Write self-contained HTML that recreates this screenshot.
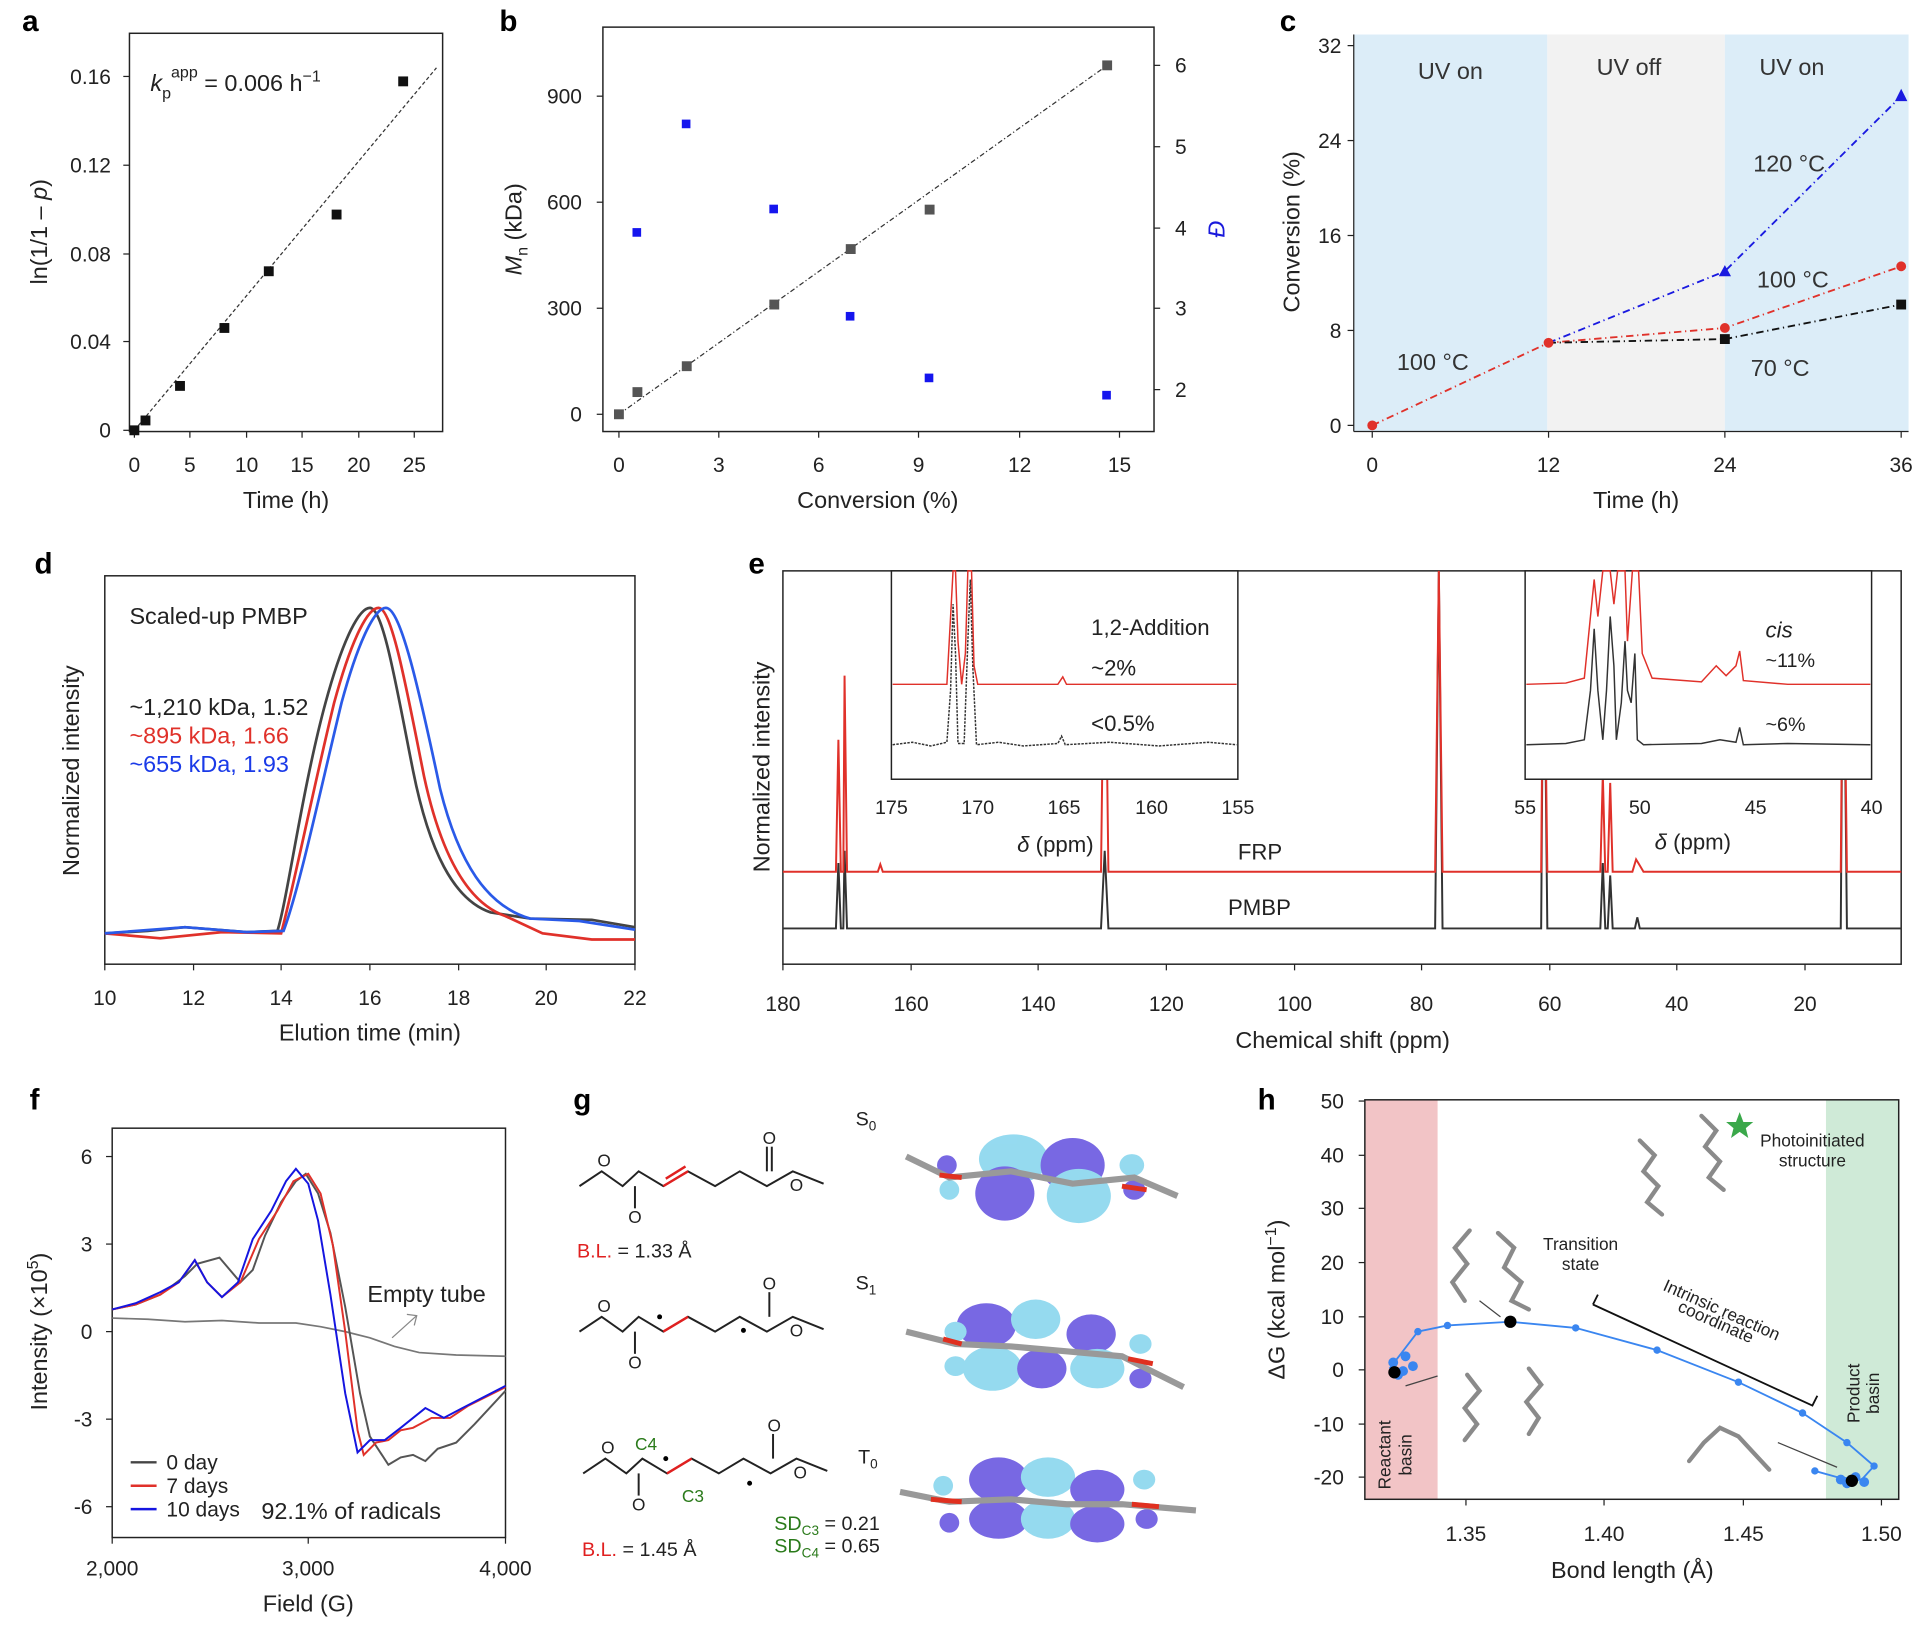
<!DOCTYPE html>
<html><head><meta charset="utf-8"><style>
html,body{margin:0;padding:0;background:#fff;}
svg{display:block;font-family:"Liberation Sans",sans-serif;}
</style></head><body>
<svg width="1932" height="1630" viewBox="0 0 1567 1322" preserveAspectRatio="none" xmlns="http://www.w3.org/2000/svg">
<g font-size="17" fill="#222">
<g font-weight="bold" font-size="24" fill="#000">
<text x="18" y="25">a</text><text x="405" y="25">b</text><text x="1038" y="25">c</text>
<text x="28" y="465">d</text><text x="607" y="465">e</text>
<text x="24" y="900">f</text><text x="465" y="900">g</text><text x="1020" y="900">h</text>
</g>

<!-- a -->
<rect x="105" y="27" width="254" height="323" fill="none" stroke="#222" stroke-width="1.2"/>
<g stroke="#222"><line x1="109" y1="350" x2="109" y2="355"/><line x1="154" y1="350" x2="154" y2="355"/><line x1="200" y1="350" x2="200" y2="355"/><line x1="245" y1="350" x2="245" y2="355"/><line x1="291" y1="350" x2="291" y2="355"/><line x1="336" y1="350" x2="336" y2="355"/>
<line x1="100" y1="349" x2="105" y2="349"/><line x1="100" y1="277" x2="105" y2="277"/><line x1="100" y1="206" x2="105" y2="206"/><line x1="100" y1="134" x2="105" y2="134"/><line x1="100" y1="62" x2="105" y2="62"/></g>
<g text-anchor="middle"><text x="109" y="383">0</text><text x="154" y="383">5</text><text x="200" y="383">10</text><text x="245" y="383">15</text><text x="291" y="383">20</text><text x="336" y="383">25</text><text x="232" y="412" font-size="19">Time (h)</text></g>
<g text-anchor="end"><text x="90" y="355">0</text><text x="90" y="283">0.04</text><text x="90" y="212">0.08</text><text x="90" y="140">0.12</text><text x="90" y="68">0.16</text></g>
<text transform="translate(38,188) rotate(-90)" text-anchor="middle" font-size="19">ln(1/1 – <tspan font-style="italic">p</tspan>)</text>
<text x="122" y="74" font-size="19"><tspan font-style="italic">k</tspan><tspan font-size="13" dy="6">p</tspan><tspan font-size="13" dy="-17">app</tspan><tspan dy="11"> = 0.006 h</tspan><tspan font-size="13" dy="-8">−1</tspan></text>
<line x1="109" y1="349" x2="354" y2="55" stroke="#333" stroke-dasharray="3,2"/>
<g fill="#111"><rect x="105" y="345" width="8" height="8"/><rect x="114" y="337" width="8" height="8"/><rect x="142" y="309" width="8" height="8"/><rect x="178" y="262" width="8" height="8"/><rect x="214" y="216" width="8" height="8"/><rect x="269" y="170" width="8" height="8"/><rect x="323" y="62" width="8" height="8"/></g>

<!-- b -->
<rect x="489" y="22" width="447" height="328" fill="none" stroke="#222" stroke-width="1.2"/>
<g stroke="#222"><line x1="502" y1="350" x2="502" y2="355"/><line x1="583" y1="350" x2="583" y2="355"/><line x1="664" y1="350" x2="664" y2="355"/><line x1="745" y1="350" x2="745" y2="355"/><line x1="827" y1="350" x2="827" y2="355"/><line x1="908" y1="350" x2="908" y2="355"/>
<line x1="484" y1="336" x2="489" y2="336"/><line x1="484" y1="250" x2="489" y2="250"/><line x1="484" y1="164" x2="489" y2="164"/><line x1="484" y1="78" x2="489" y2="78"/>
<line x1="936" y1="316" x2="941" y2="316"/><line x1="936" y1="250" x2="941" y2="250"/><line x1="936" y1="185" x2="941" y2="185"/><line x1="936" y1="119" x2="941" y2="119"/><line x1="936" y1="53" x2="941" y2="53"/></g>
<g text-anchor="middle"><text x="502" y="383">0</text><text x="583" y="383">3</text><text x="664" y="383">6</text><text x="745" y="383">9</text><text x="827" y="383">12</text><text x="908" y="383">15</text><text x="712" y="412" font-size="19">Conversion (%)</text></g>
<g text-anchor="end"><text x="472" y="342">0</text><text x="472" y="256">300</text><text x="472" y="170">600</text><text x="472" y="84">900</text></g>
<g><text x="953" y="322">2</text><text x="953" y="256">3</text><text x="953" y="191">4</text><text x="953" y="125">5</text><text x="953" y="59">6</text></g>
<text transform="translate(423,186) rotate(-90)" text-anchor="middle" font-size="19"><tspan font-style="italic">M</tspan><tspan font-size="13" dy="5">n</tspan><tspan dy="-5"> (kDa)</tspan></text>
<text transform="translate(993,186) rotate(-90)" text-anchor="middle" font-size="19" fill="#1a1adc" font-style="italic">Đ</text>
<line x1="502" y1="336" x2="898" y2="53" stroke="#333" stroke-dasharray="4,2,1,2"/>
<g fill="#555"><rect x="498" y="332" width="8" height="8"/><rect x="513" y="314" width="8" height="8"/><rect x="553" y="293" width="8" height="8"/><rect x="624" y="243" width="8" height="8"/><rect x="686" y="198" width="8" height="8"/><rect x="750" y="166" width="8" height="8"/><rect x="894" y="49" width="8" height="8"/></g>
<g fill="#1515ee"><rect x="513" y="185" width="7" height="7"/><rect x="553" y="97" width="7" height="7"/><rect x="624" y="166" width="7" height="7"/><rect x="686" y="253" width="7" height="7"/><rect x="750" y="303" width="7" height="7"/><rect x="894" y="317" width="7" height="7"/></g>

<!-- c -->
<rect x="1098" y="28" width="157" height="322" fill="#dcedf8"/>
<rect x="1255" y="28" width="144" height="322" fill="#f2f2f2"/>
<rect x="1399" y="28" width="149" height="322" fill="#dcedf8"/>
<line x1="1098" y1="28" x2="1098" y2="350" stroke="#222"/><line x1="1098" y1="350" x2="1548" y2="350" stroke="#222"/>
<g stroke="#222"><line x1="1113" y1="350" x2="1113" y2="355"/><line x1="1256" y1="350" x2="1256" y2="355"/><line x1="1399" y1="350" x2="1399" y2="355"/><line x1="1542" y1="350" x2="1542" y2="355"/>
<line x1="1093" y1="345" x2="1098" y2="345"/><line x1="1093" y1="268" x2="1098" y2="268"/><line x1="1093" y1="191" x2="1098" y2="191"/><line x1="1093" y1="114" x2="1098" y2="114"/><line x1="1093" y1="37" x2="1098" y2="37"/></g>
<g text-anchor="middle"><text x="1113" y="383">0</text><text x="1256" y="383">12</text><text x="1399" y="383">24</text><text x="1542" y="383">36</text><text x="1327" y="412" font-size="19">Time (h)</text></g>
<g text-anchor="end"><text x="1088" y="351">0</text><text x="1088" y="274">8</text><text x="1088" y="197">16</text><text x="1088" y="120">24</text><text x="1088" y="43">32</text></g>
<text transform="translate(1054,188) rotate(-90)" text-anchor="middle" font-size="19">Conversion (%)</text>
<g font-size="19" fill="#333"><text x="1150" y="64">UV on</text><text x="1295" y="61">UV off</text><text x="1427" y="61">UV on</text>
<text x="1133" y="300">100 °C</text><text x="1422" y="139">120 °C</text><text x="1425" y="233">100 °C</text><text x="1420" y="305">70 °C</text></g>
<polyline points="1113,345 1256,278 1399,266 1542,216" fill="none" stroke="#e0312a" stroke-width="1.5" stroke-dasharray="6,3,1,3"/>
<polyline points="1256,278 1399,275 1542,247" fill="none" stroke="#111" stroke-width="1.5" stroke-dasharray="6,3,1,3"/>
<polyline points="1256,278 1399,220 1542,78" fill="none" stroke="#1a1ae0" stroke-width="1.5" stroke-dasharray="6,3,1,3"/>
<g fill="#e0312a"><circle cx="1113" cy="345" r="4"/><circle cx="1256" cy="278" r="4"/><circle cx="1399" cy="266" r="4"/><circle cx="1542" cy="216" r="4"/></g>
<g fill="#111"><rect x="1395" y="271" width="8" height="8"/><rect x="1538" y="243" width="8" height="8"/></g>
<g fill="#1a1ae0"><polygon points="1399,215 1404,224 1394,224"/><polygon points="1542,72 1547,82 1537,82"/></g>

<!-- d -->
<rect x="85" y="467" width="430" height="315" fill="none" stroke="#222" stroke-width="1.2"/>
<g stroke="#222"><line x1="85" y1="782" x2="85" y2="787"/><line x1="157" y1="782" x2="157" y2="787"/><line x1="228" y1="782" x2="228" y2="787"/><line x1="300" y1="782" x2="300" y2="787"/><line x1="372" y1="782" x2="372" y2="787"/><line x1="443" y1="782" x2="443" y2="787"/><line x1="515" y1="782" x2="515" y2="787"/></g>
<g text-anchor="middle"><text x="85" y="815">10</text><text x="157" y="815">12</text><text x="228" y="815">14</text><text x="300" y="815">16</text><text x="372" y="815">18</text><text x="443" y="815">20</text><text x="515" y="815">22</text><text x="300" y="844" font-size="19">Elution time (min)</text></g>
<text transform="translate(64,625) rotate(-90)" text-anchor="middle" font-size="19">Normalized intensity</text>
<g font-size="19"><text x="105" y="506">Scaled-up PMBP</text><text x="105" y="580">~1,210 kDa, 1.52</text><text x="105" y="603" fill="#e0312a">~895 kDa, 1.66</text><text x="105" y="626" fill="#1a3ae8">~655 kDa, 1.93</text></g>
<path d="M85,757 L120,755 L150,752 L200,756 L225,755 C233,730 245,640 264,570 C279,515 292,493 300,493 C311,493 322,560 335,625 C348,690 368,730 398,740 L430,745 L480,746 L515,752" fill="none" stroke="#444" stroke-width="2.2"/>
<path d="M85,757 L130,761 L180,756 L228,757 C238,720 254,640 271,570 C286,515 299,493 307,493 C318,493 330,560 344,630 C357,690 378,732 410,743 L440,757 L480,762 L515,762" fill="none" stroke="#e0312a" stroke-width="2.2"/>
<path d="M85,757 L150,752 L200,756 L230,755 C243,720 260,640 277,570 C292,515 305,493 313,493 C325,493 340,560 357,640 C372,700 395,735 430,745 L470,747 L515,754" fill="none" stroke="#2a5ae8" stroke-width="2.2"/>

<!-- e -->
<rect x="635" y="463" width="907" height="319" fill="none" stroke="#222" stroke-width="1.2"/>
<g stroke="#222"><line x1="635" y1="782" x2="635" y2="787"/><line x1="739" y1="782" x2="739" y2="787"/><line x1="842" y1="782" x2="842" y2="787"/><line x1="946" y1="782" x2="946" y2="787"/><line x1="1050" y1="782" x2="1050" y2="787"/><line x1="1153" y1="782" x2="1153" y2="787"/><line x1="1257" y1="782" x2="1257" y2="787"/><line x1="1360" y1="782" x2="1360" y2="787"/><line x1="1464" y1="782" x2="1464" y2="787"/></g>
<g text-anchor="middle"><text x="635" y="820">180</text><text x="739" y="820">160</text><text x="842" y="820">140</text><text x="946" y="820">120</text><text x="1050" y="820">100</text><text x="1153" y="820">80</text><text x="1257" y="820">60</text><text x="1360" y="820">40</text><text x="1464" y="820">20</text><text x="1089" y="850" font-size="19">Chemical shift (ppm)</text></g>
<text transform="translate(624,622) rotate(-90)" text-anchor="middle" font-size="19">Normalized intensity</text>
<path d="M635,753 L678,753 L680,700 L682,753 L684,753 L685,690 L687,753 L893,753 L896,690 L899,753 L1164,753 L1167,463 L1170,753 L1250,753 L1252,463 L1255,753 L1298,753 L1300,700 L1302,753 L1304,753 L1306,710 L1308,753 L1326,753 L1328,744 L1330,753 L1493,753 L1495,463 L1498,753 L1542,753" fill="none" stroke="#333" stroke-width="1.6"/>
<path d="M635,707 L678,707 L680,600 L682,707 L684,707 L685,548 L687,707 L712,707 L714,701 L716,707 L893,707 L896,463 L899,707 L1164,707 L1167,463 L1170,707 L1250,707 L1252,463 L1255,707 L1298,707 L1300,628 L1302,707 L1304,707 L1306,635 L1308,707 L1324,707 L1327,697 L1330,702 L1333,707 L1493,707 L1495,463 L1498,707 L1542,707" fill="none" stroke="#e0312a" stroke-width="1.6"/>
<text x="1004" y="697" font-size="18">FRP</text><text x="996" y="742" font-size="18">PMBP</text>
<rect x="723" y="463" width="281" height="169" fill="#fff" stroke="#222" stroke-width="1.2"/>
<rect x="1237" y="463" width="281" height="169" fill="#fff" stroke="#222" stroke-width="1.2"/>
<path d="M724,604 L740,602 L755,605 L768,602 L771,560 L773,490 L775,530 L777,603 L782,603 L785,520 L787,470 L789,540 L792,604 L810,602 L830,605 L858,603 L861,597 L864,604 L900,602 L940,605 L980,602 L1003,604" fill="none" stroke="#333" stroke-width="1.2" stroke-dasharray="2,1"/>
<path d="M724,555 L768,555 L771,500 L773,463 L775,463 L777,520 L780,555 L783,530 L785,463 L788,463 L790,540 L793,555 L858,555 L862,549 L865,555 L1003,555" fill="none" stroke="#e0312a" stroke-width="1.2"/>
<path d="M1238,604 L1270,603 L1285,600 L1290,560 L1293,510 L1296,560 L1300,600 L1303,560 L1306,500 L1309,540 L1311,600 L1315,570 L1318,520 L1320,560 L1323,570 L1326,530 L1328,600 L1333,604 L1380,603 L1395,600 L1408,602 L1411,590 L1414,604 L1450,603 L1517,604" fill="none" stroke="#333" stroke-width="1.2"/>
<path d="M1238,555 L1270,554 L1285,550 L1290,500 L1293,470 L1296,500 L1300,463 L1303,463 L1306,463 L1309,490 L1312,463 L1318,463 L1320,520 L1324,463 L1329,463 L1332,530 L1340,550 L1380,553 L1392,540 L1400,548 L1408,540 L1411,528 L1414,552 L1450,555 L1517,555" fill="none" stroke="#e0312a" stroke-width="1.2"/>
<g text-anchor="middle" font-size="16"><text x="723" y="660">175</text><text x="793" y="660">170</text><text x="863" y="660">165</text><text x="934" y="660">160</text><text x="1004" y="660">155</text>
<text x="1237" y="660">55</text><text x="1330" y="660">50</text><text x="1424" y="660">45</text><text x="1518" y="660">40</text></g>
<text x="825" y="691" font-size="18"><tspan font-style="italic">δ</tspan> (ppm)</text>
<text x="1342" y="689" font-size="18"><tspan font-style="italic">δ</tspan> (ppm)</text>
<g font-size="18"><text x="885" y="515">1,2-Addition</text><text x="885" y="548">~2%</text><text x="885" y="593">&lt;0.5%</text>
<text x="1432" y="517" font-style="italic">cis</text><text x="1432" y="541" font-size="16">~11%</text><text x="1432" y="593" font-size="16">~6%</text></g>

<!-- f -->
<rect x="91" y="915" width="319" height="332" fill="none" stroke="#222" stroke-width="1.2"/>
<g stroke="#222"><line x1="91" y1="1247" x2="91" y2="1252"/><line x1="250" y1="1247" x2="250" y2="1252"/><line x1="410" y1="1247" x2="410" y2="1252"/>
<line x1="86" y1="938" x2="91" y2="938"/><line x1="86" y1="1009" x2="91" y2="1009"/><line x1="86" y1="1080" x2="91" y2="1080"/><line x1="86" y1="1151" x2="91" y2="1151"/><line x1="86" y1="1222" x2="91" y2="1222"/></g>
<g text-anchor="middle"><text x="91" y="1278">2,000</text><text x="250" y="1278">3,000</text><text x="410" y="1278">4,000</text><text x="250" y="1307" font-size="19">Field (G)</text></g>
<g text-anchor="end"><text x="75" y="944">6</text><text x="75" y="1015">3</text><text x="75" y="1086">0</text><text x="75" y="1157">-3</text><text x="75" y="1228">-6</text></g>
<text transform="translate(38,1080) rotate(-90)" text-anchor="middle" font-size="19">Intensity (×10<tspan font-size="13" dy="-7">5</tspan><tspan dy="7">)</tspan></text>
<path d="M91,1069 L120,1070 L150,1072 L180,1071 L210,1073 L240,1073 L260,1076 L280,1080 L300,1085 L320,1092 L340,1097 L370,1099 L410,1100" fill="none" stroke="#777" stroke-width="1.4"/>
<path d="M91,1062 L110,1058 L130,1050 L150,1035 L160,1025 L178,1020 L195,1040 L205,1030 L215,1002 L228,975 L240,958 L248,952 L258,968 L268,1000 L280,1060 L292,1130 L300,1165 L315,1188 L325,1182 L335,1180 L345,1185 L355,1175 L370,1170 L385,1155 L410,1128" fill="none" stroke="#555" stroke-width="1.6"/>
<path d="M91,1062 L110,1058 L130,1050 L145,1040 L158,1022 L168,1040 L180,1052 L195,1040 L210,1005 L225,982 L238,958 L250,952 L260,968 L270,1010 L280,1080 L290,1160 L295,1180 L305,1170 L315,1168 L325,1160 L335,1158 L350,1150 L365,1150 L380,1140 L410,1125" fill="none" stroke="#e0312a" stroke-width="1.6"/>
<path d="M91,1062 L110,1057 L130,1048 L145,1040 L158,1022 L168,1040 L180,1052 L193,1040 L205,1005 L220,982 L232,958 L240,948 L250,960 L258,990 L268,1050 L280,1130 L290,1178 L300,1168 L312,1168 L325,1158 L335,1150 L345,1142 L360,1150 L375,1142 L410,1124" fill="none" stroke="#1515e0" stroke-width="1.6"/>
<text x="298" y="1056" font-size="19">Empty tube</text>
<line x1="338" y1="1067" x2="318" y2="1085" stroke="#888"/><polyline points="330,1066 338,1067 336,1075" fill="none" stroke="#888"/>
<g font-size="17"><line x1="106" y1="1186" x2="127" y2="1186" stroke="#444" stroke-width="2"/><text x="135" y="1192">0 day</text>
<line x1="106" y1="1205" x2="127" y2="1205" stroke="#e0312a" stroke-width="2"/><text x="135" y="1211">7 days</text>
<line x1="106" y1="1224" x2="127" y2="1224" stroke="#1515e0" stroke-width="2"/><text x="135" y="1230">10 days</text>
<text x="212" y="1232" font-size="19">92.1% of radicals</text></g>

<!-- g -->
<g stroke="#222" stroke-width="1.6" fill="none">
<polyline points="470,962 488,950 505,962 518,950 538,962 558,950 580,962 600,950 622,962 643,950 668,960"/>
<line x1="515" y1="962" x2="515" y2="980"/><line x1="622" y1="950" x2="622" y2="930"/><line x1="626" y1="950" x2="626" y2="930"/>
<polyline points="470,1080 488,1068 505,1080 518,1068 538,1080 558,1068 580,1080 600,1068 622,1080 643,1068 668,1078"/>
<line x1="515" y1="1080" x2="515" y2="1098"/><line x1="624" y1="1068" x2="624" y2="1048"/>
<polyline points="473,1195 491,1183 508,1195 521,1183 541,1195 561,1183 583,1195 603,1183 625,1195 646,1183 671,1193"/>
<line x1="518" y1="1195" x2="518" y2="1213"/><line x1="627" y1="1183" x2="627" y2="1163"/>
</g>
<g stroke="#e02020" stroke-width="2"><line x1="538" y1="962" x2="558" y2="950"/><line x1="540" y1="956" x2="556" y2="946"/><line x1="538" y1="1080" x2="558" y2="1068"/><line x1="541" y1="1195" x2="561" y2="1183"/></g>
<g font-size="14" text-anchor="middle"><text x="490" y="946">O</text><text x="515" y="992">O</text><text x="624" y="928">O</text><text x="646" y="966">O</text>
<text x="490" y="1064">O</text><text x="515" y="1110">O</text><text x="624" y="1046">O</text><text x="646" y="1084">O</text>
<text x="493" y="1179">O</text><text x="518" y="1225">O</text><text x="628" y="1161">O</text><text x="649" y="1199">O</text>
<text x="524" y="1176" fill="#2a7a1a">C4</text><text x="562" y="1218" fill="#2a7a1a">C3</text></g>
<g fill="#000"><circle cx="535" cy="1068" r="2"/><circle cx="603" cy="1079" r="2"/><circle cx="540" cy="1183" r="2"/><circle cx="608" cy="1203" r="2"/></g>
<text x="468" y="1020" font-size="16"><tspan fill="#e02020">B.L.</tspan> = 1.33 Å</text>
<text x="472" y="1262" font-size="16"><tspan fill="#e02020">B.L.</tspan> = 1.45 Å</text>
<g font-size="16"><text x="628" y="1241"><tspan fill="#2a7a1a">SD</tspan><tspan font-size="11" dy="4" fill="#2a7a1a">C3</tspan><tspan dy="-4"> = 0.21</tspan></text>
<text x="628" y="1259"><tspan fill="#2a7a1a">SD</tspan><tspan font-size="11" dy="4" fill="#2a7a1a">C4</tspan><tspan dy="-4"> = 0.65</tspan></text>
<text x="694" y="913">S<tspan font-size="11" dy="4">0</tspan></text><text x="694" y="1046">S<tspan font-size="11" dy="4">1</tspan></text><text x="696" y="1187">T<tspan font-size="11" dy="4">0</tspan></text></g>
<!-- orbitals S0 -->
<g opacity="0.9">
<ellipse cx="822" cy="940" rx="28" ry="20" fill="#8ad6ee"/><ellipse cx="815" cy="968" rx="24" ry="22" fill="#6a58e0"/>
<ellipse cx="870" cy="945" rx="26" ry="22" fill="#6a58e0"/><ellipse cx="875" cy="970" rx="26" ry="22" fill="#8ad6ee"/>
<ellipse cx="768" cy="945" rx="8" ry="8" fill="#6a58e0"/><ellipse cx="770" cy="965" rx="8" ry="8" fill="#8ad6ee"/>
<ellipse cx="918" cy="945" rx="10" ry="9" fill="#8ad6ee"/><ellipse cx="920" cy="965" rx="9" ry="8" fill="#6a58e0"/>
</g>
<polyline points="735,938 770,955 820,950 870,960 920,955 955,970" fill="none" stroke="#999" stroke-width="5"/>
<line x1="762" y1="953" x2="780" y2="955" stroke="#e03020" stroke-width="4"/><line x1="910" y1="962" x2="930" y2="965" stroke="#e03020" stroke-width="4"/>
<!-- S1 -->
<g opacity="0.9">
<ellipse cx="800" cy="1075" rx="24" ry="18" fill="#6a58e0"/><ellipse cx="840" cy="1070" rx="20" ry="16" fill="#8ad6ee"/><ellipse cx="885" cy="1082" rx="20" ry="16" fill="#6a58e0"/>
<ellipse cx="805" cy="1110" rx="24" ry="18" fill="#8ad6ee"/><ellipse cx="845" cy="1110" rx="20" ry="16" fill="#6a58e0"/><ellipse cx="890" cy="1110" rx="22" ry="16" fill="#8ad6ee"/>
<ellipse cx="775" cy="1080" rx="9" ry="8" fill="#8ad6ee"/><ellipse cx="775" cy="1108" rx="9" ry="8" fill="#8ad6ee"/><ellipse cx="925" cy="1090" rx="9" ry="8" fill="#8ad6ee"/><ellipse cx="925" cy="1118" rx="9" ry="8" fill="#6a58e0"/>
</g>
<polyline points="735,1080 775,1090 820,1092 865,1096 910,1100 960,1125" fill="none" stroke="#999" stroke-width="5"/>
<line x1="765" y1="1086" x2="780" y2="1090" stroke="#e03020" stroke-width="4"/><line x1="915" y1="1102" x2="935" y2="1106" stroke="#e03020" stroke-width="4"/>
<!-- T0 -->
<g opacity="0.9">
<ellipse cx="810" cy="1200" rx="24" ry="18" fill="#6a58e0"/><ellipse cx="850" cy="1198" rx="22" ry="16" fill="#8ad6ee"/><ellipse cx="890" cy="1208" rx="22" ry="16" fill="#6a58e0"/>
<ellipse cx="810" cy="1232" rx="24" ry="16" fill="#6a58e0"/><ellipse cx="850" cy="1232" rx="22" ry="16" fill="#8ad6ee"/><ellipse cx="890" cy="1236" rx="22" ry="15" fill="#6a58e0"/>
<ellipse cx="765" cy="1205" rx="8" ry="8" fill="#8ad6ee"/><ellipse cx="770" cy="1235" rx="8" ry="8" fill="#6a58e0"/><ellipse cx="928" cy="1200" rx="9" ry="8" fill="#8ad6ee"/><ellipse cx="930" cy="1232" rx="9" ry="8" fill="#6a58e0"/>
</g>
<polyline points="730,1210 770,1218 820,1216 865,1220 910,1220 970,1225" fill="none" stroke="#999" stroke-width="5"/>
<line x1="755" y1="1216" x2="780" y2="1218" stroke="#e03020" stroke-width="4"/><line x1="918" y1="1220" x2="940" y2="1222" stroke="#e03020" stroke-width="4"/>

<!-- h -->
<rect x="1107" y="892" width="59" height="324" fill="#f2c4c6"/>
<rect x="1481" y="892" width="59" height="324" fill="#cfead7"/>
<rect x="1107" y="892" width="433" height="324" fill="none" stroke="#222" stroke-width="1.2"/>
<g stroke="#222"><line x1="1189" y1="1216" x2="1189" y2="1221"/><line x1="1301" y1="1216" x2="1301" y2="1221"/><line x1="1414" y1="1216" x2="1414" y2="1221"/><line x1="1526" y1="1216" x2="1526" y2="1221"/>
<line x1="1102" y1="893" x2="1107" y2="893"/><line x1="1102" y1="937" x2="1107" y2="937"/><line x1="1102" y1="980" x2="1107" y2="980"/><line x1="1102" y1="1024" x2="1107" y2="1024"/><line x1="1102" y1="1068" x2="1107" y2="1068"/><line x1="1102" y1="1111" x2="1107" y2="1111"/><line x1="1102" y1="1155" x2="1107" y2="1155"/><line x1="1102" y1="1198" x2="1107" y2="1198"/></g>
<g text-anchor="middle"><text x="1189" y="1250">1.35</text><text x="1301" y="1250">1.40</text><text x="1414" y="1250">1.45</text><text x="1526" y="1250">1.50</text><text x="1324" y="1280" font-size="19">Bond length (Å)</text></g>
<g text-anchor="end"><text x="1090" y="899">50</text><text x="1090" y="943">40</text><text x="1090" y="986">30</text><text x="1090" y="1030">20</text><text x="1090" y="1074">10</text><text x="1090" y="1117">0</text><text x="1090" y="1161">-10</text><text x="1090" y="1204">-20</text></g>
<text transform="translate(1042,1054) rotate(-90)" text-anchor="middle" font-size="19">ΔG (kcal mol<tspan font-size="13" dy="-7">−1</tspan><tspan dy="7">)</tspan></text>
<polyline points="1127,1110 1150,1080 1174,1075 1225,1072 1278,1077 1344,1095 1410,1121 1462,1146 1498,1170 1520,1189 1510,1200 1490,1198 1472,1193" fill="none" stroke="#3a86f0" stroke-width="1.5"/>
<g fill="#3a86f0"><circle cx="1150" cy="1080" r="3"/><circle cx="1174" cy="1075" r="3"/><circle cx="1278" cy="1077" r="3"/><circle cx="1344" cy="1095" r="3"/><circle cx="1410" cy="1121" r="3"/><circle cx="1462" cy="1146" r="3"/><circle cx="1498" cy="1170" r="3"/><circle cx="1520" cy="1189" r="3"/><circle cx="1472" cy="1193" r="3"/>
<circle cx="1130" cy="1105" r="4"/><circle cx="1138" cy="1112" r="4"/><circle cx="1146" cy="1108" r="4"/><circle cx="1140" cy="1100" r="4"/><circle cx="1134" cy="1115" r="4"/>
<circle cx="1493" cy="1200" r="4"/><circle cx="1505" cy="1198" r="4"/><circle cx="1512" cy="1202" r="4"/><circle cx="1498" cy="1203" r="4"/></g>
<circle cx="1131" cy="1113" r="5" fill="#000"/><circle cx="1225" cy="1072" r="5" fill="#000"/><circle cx="1502" cy="1201" r="5" fill="#000"/>
<polyline points="1292,1058 1470,1140 1474,1132" fill="none" stroke="#111" stroke-width="1.5"/><line x1="1292" y1="1058" x2="1296" y2="1050" stroke="#111" stroke-width="1.5"/>
<text transform="translate(1348,1046) rotate(24)" font-size="14">Intrinsic reaction</text>
<text transform="translate(1360,1063) rotate(24)" font-size="14">coordinate</text>
<g font-size="14" text-anchor="middle"><text x="1282" y="1014">Transition</text><text x="1282" y="1030">state</text><text x="1470" y="930">Photoinitiated</text><text x="1470" y="946">structure</text></g>
<text transform="translate(1128,1180) rotate(-90)" text-anchor="middle" font-size="14">Reactant</text><text transform="translate(1145,1180) rotate(-90)" text-anchor="middle" font-size="14">basin</text>
<text transform="translate(1508,1130) rotate(-90)" text-anchor="middle" font-size="14">Product</text><text transform="translate(1524,1130) rotate(-90)" text-anchor="middle" font-size="14">basin</text>
<polygon points="1411,902 1414,910 1422,910 1416,915 1418,923 1411,918 1404,923 1406,915 1400,910 1408,910" fill="#3aa84a"/>
<g stroke="#444" fill="none" stroke-width="1"><line x1="1200" y1="1055" x2="1217" y2="1068"/><line x1="1166" y1="1116" x2="1140" y2="1124"/><line x1="1442" y1="1170" x2="1490" y2="1190"/></g>
<g stroke="#8a8a8a" stroke-width="3.5" fill="none" stroke-linecap="round">
<polyline points="1330,925 1342,937 1333,950 1345,962 1336,975 1348,985"/>
<polyline points="1380,905 1392,917 1383,930 1395,942 1386,955 1398,965"/>
<polyline points="1192,998 1180,1012 1190,1025 1178,1040 1188,1055"/>
<polyline points="1215,1000 1228,1012 1220,1028 1234,1040 1226,1055 1240,1062"/>
<polyline points="1190,1115 1200,1128 1188,1142 1198,1155 1188,1168"/>
<polyline points="1240,1110 1250,1123 1238,1137 1248,1150 1240,1163"/>
<polyline points="1370,1185 1382,1170 1395,1158 1410,1165 1422,1178 1435,1192"/>
</g>
</g>
</svg>
</body></html>
